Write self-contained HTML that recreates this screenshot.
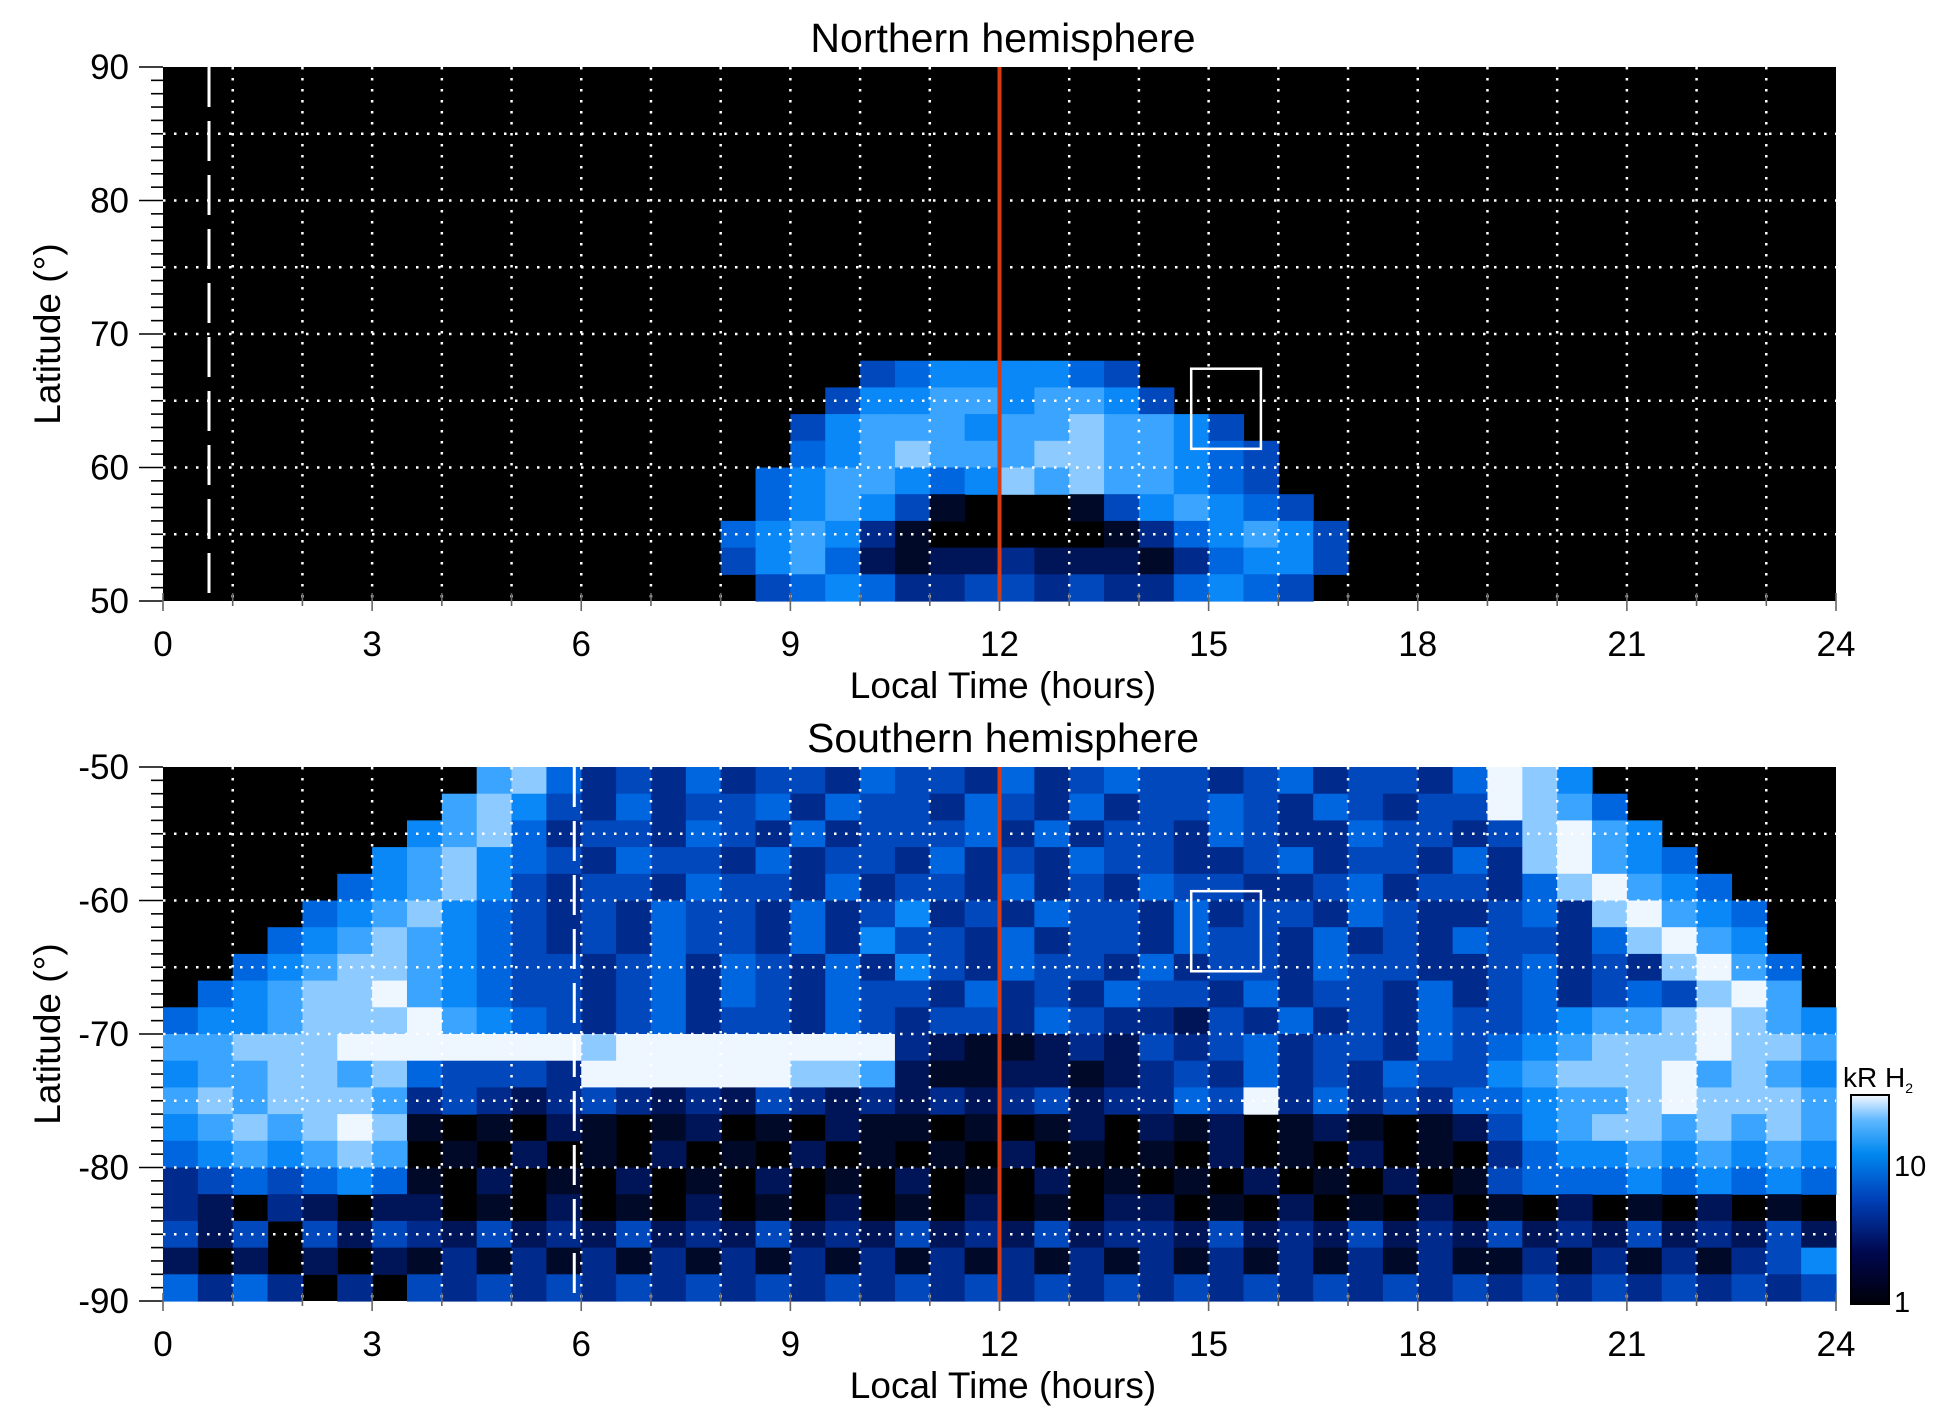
<!DOCTYPE html>
<html><head><meta charset="utf-8"><style>
html,body{margin:0;padding:0;background:#fff;}
svg{display:block;font-family:"Liberation Sans",Arial,sans-serif;}
</style></head><body>
<svg id="chart" width="1950" height="1423" viewBox="0 0 1950 1423" xmlns="http://www.w3.org/2000/svg">
<defs>
<linearGradient id="cbgrad" x1="0" y1="1" x2="0" y2="0">
<stop offset="0" stop-color="#000008"/><stop offset="0.25" stop-color="#000850"/><stop offset="0.5" stop-color="#0040b8"/><stop offset="0.72" stop-color="#0088f0"/><stop offset="0.88" stop-color="#60b8ff"/><stop offset="1" stop-color="#f4f8ff"/>
</linearGradient>
</defs>
<g id="north"></g>
<g id="south"></g>
<g id="colorbar">
<rect x="1851" y="1095" width="38" height="209" fill="url(#cbgrad)" stroke="#000" stroke-width="2"/>
<text x="1843" y="1087" font-size="28">kR H<tspan font-size="14" dy="6">2</tspan></text>
<text x="1894" y="1176" font-size="29">10</text>
<text x="1894" y="1312" font-size="29">1</text>
</g>
</svg>
<script>
const xTicks=[0,3,6,9,12,15,18,21,24];
const northLatTicks=[90,80,70,60,50];
const southLatTicks=[-50,-60,-70,-80,-90];
const noonLT=[12];
const northBoxLT=[14.75,15.75], northBoxLat=[67.4,61.4];
const southBoxLT=[14.75,15.75], southBoxLat=[-59.3,-65.3];
const northDashLT=[0.66], southDashLT=[5.9];
const levelColors=["#000000","#000a28","#001458","#002a8c","#0048bc","#0066e0","#0a88f8","#3aa4ff","#8ccaff","#eef6ff"];
const northRows=[
"","","","","","","","","","","",
"0000000000000000000045666654",
"00000000000000000004667767764",
"0000000000000000004677767787764",
"00000000000000000056787778877654",
"00000000000000000567765687877654",
"000000000000000005676410001467654",
"0000000000000000567631000001356764",
"0000000000000000467521223222135664",
"000000000000000004565334434335654"
];
const southRows=[
"000000000785"+"34353443544353454434534435"+"986"+"0000000",
"00000000786"+"435344535443543534454354344"+"9875"+"000000",
"00000006785"+"3443543534445353443543354434"+"8976"+"00000",
"00000067865"+"4354435344353435443345344353"+"89765"+"0000",
"00000567864"+"34435443534435343544334534435"+"89765"+"000",
"00005678654"+"343544353463435443534435433453"+"89765"+"00",
"00056787654"+"3435443536443534435443534354435"+"8976"+"00",
"00567887654"+"43453543536435443534435443345343"+"8975"+"0",
"05678897654"+"434535435443534354435344353453454"+"897"+"0",
"5667888976"+"5434534435434435433243534354"+"4567789876",
"7788899"+"99999899999999"+"3211232"+"4345344354"+"5678889887",
"6778878"+"54443"+"999999887"+"2112212"+"3435343544"+"6788897876",
"7878887"+"34323432324323"+"2323423"+"3549353435"+"5677898887",
"6787898"+"10102101201021"+"1010120"+"2120121012"+"4678878787",
"5676787"+"01020102010201"+"0102010"+"1020102010"+"3566767676",
"3454565"+"10201020102010"+"2010201"+"0102010201"+"4555656565",
"3203202"+"20102010201020"+"1020102"+"2010201020"+"1020102010",
"4240424"+"32423242324232"+"4232423"+"3242324232"+"4232423242",
"2020202"+"13131313131313"+"1313131"+"3131313131"+"1313131346",
"5353030"+"43434343434343"+"4343434"+"3434343434"+"3434343434"
];
const NS="http://www.w3.org/2000/svg";
const X0=163,X1=1836;
function xs(h){return X0+(X1-X0)*h/24;}
function mk(tag,attrs,parent){const e=document.createElementNS(NS,tag);for(const k in attrs)e.setAttribute(k,attrs[k]);parent.appendChild(e);return e;}
function panel(g,top,latTop,latBot,rows,latTicks,boxLT,boxLat,dashLT,title,pfx){
  const bot=top+534;
  const ys=l=>top+(bot-top)*(latTop-l)/(latTop-latBot);
  const bg=mk('rect',{x:X0,y:top,width:X1-X0,height:bot-top,fill:'#000'},g);
  
  
  const nr=rows.length, cw=(X1-X0)/48, rh=(bot-top)/nr;
  const cells=mk('g',{},g);
  
  
  for(let r=0;r<nr;r++){const s=rows[r].padEnd(48,'0');for(let c=0;c<48;c++){const v=+s[c];if(!v)continue;
    const lat=latTop-(latTop-latBot)*r/nr;
    const rc=mk('rect',{x:xs(c/2),y:ys(lat),width:cw+0.6,height:rh+0.6,fill:levelColors[v]},cells);
    
    }}
  for(let h=1;h<24;h++){const l=mk('line',{x1:xs(h),x2:xs(h),y1:top,y2:bot,stroke:'#fff','stroke-width':2.5,'stroke-dasharray':'2.5,8.5'},g);
    
    }
  for(let k=1;k<8;k++){const lat=latTop-(latTop-latBot)*k/8;const y=ys(lat);const l=mk('line',{x1:X0,x2:X1,y1:y,y2:y,stroke:'#fff','stroke-width':2.5,'stroke-dasharray':'2.5,8.5'},g);
    
    }
  dashLT.forEach(h=>{const l=mk('line',{x1:xs(h),x2:xs(h),y1:top,y2:bot,stroke:'#fff','stroke-width':3,'stroke-dasharray':'40,14'},g);
    
    });
  noonLT.forEach(h=>{const l=mk('line',{x1:xs(h),x2:xs(h),y1:top,y2:bot,stroke:'#d83a12','stroke-width':4},g);
    
    });
  const bx=mk('rect',{x:xs(boxLT[0]),y:ys(boxLat[0]),width:xs(boxLT[1])-xs(boxLT[0]),height:ys(boxLat[1])-ys(boxLat[0]),fill:'none',stroke:'#fff','stroke-width':2.5},g);
  
  
  for(let k=0;k<=40;k++){const lat=latTop-(latTop-latBot)*k/40;const y=ys(lat);const major=k%10==0;
    const t=mk('line',{x1:major?139:151,x2:X0,y1:y,y2:y,stroke:'#000','stroke-width':1.6},g);
    
    }
  latTicks.forEach(l=>{const t=mk('text',{x:129,y:ys(l)+12,'font-size':35,'text-anchor':'end'},g);t.textContent=l;
    
    });
  for(let h=0;h<=24;h++){const t=mk('line',{x1:xs(h),x2:xs(h),y1:bot-8,y2:bot+(h%3==0?10:5),stroke:'#666','stroke-width':1.6},g);
    
    }
  xTicks.forEach(h=>{const t=mk('text',{x:xs(h),y:bot+55,'font-size':35,'text-anchor':'middle'},g);t.textContent=h;
    
    });
  const xt=mk('text',{x:1003,y:bot+97,'font-size':37,'text-anchor':'middle'},g);xt.textContent='Local Time (hours)';
  
  
  const yt=mk('text',{x:0,y:0,'font-size':37,'text-anchor':'middle',transform:`translate(60,${(top+bot)/2}) rotate(-90)`},g);yt.textContent='Latitude (°)';
  
  
  const tt=mk('text',{x:1003,y:top-15,'font-size':41,'text-anchor':'middle'},g);tt.textContent=title;
  
  
}
panel(document.getElementById('north'),67,90,50,northRows,northLatTicks,northBoxLT,northBoxLat,northDashLT,'Northern hemisphere','north');
panel(document.getElementById('south'),767,-50,-90,southRows,southLatTicks,southBoxLT,southBoxLat,southDashLT,'Southern hemisphere','south');
</script>
</body></html>
